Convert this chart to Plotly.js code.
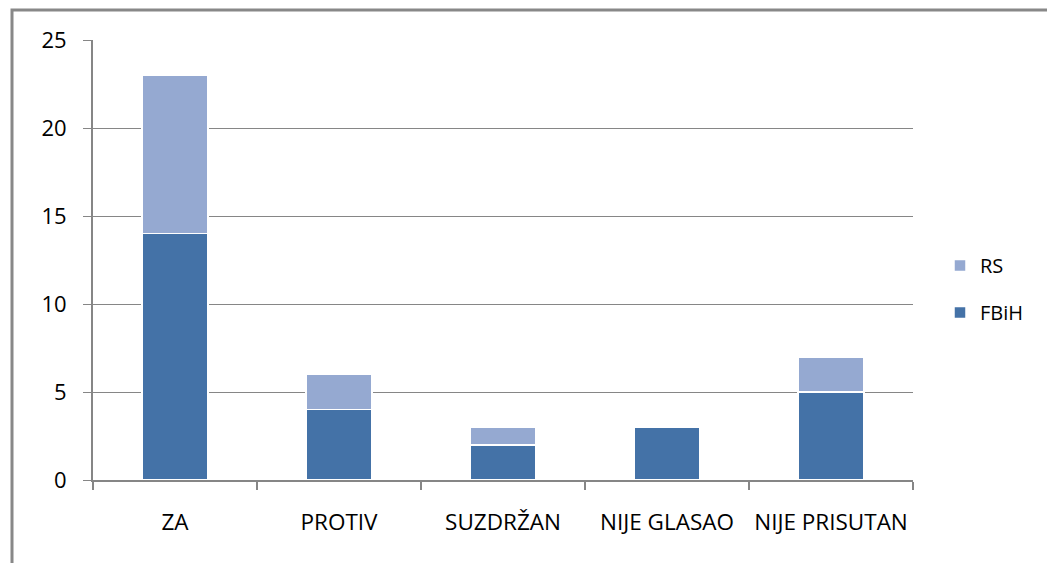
<!DOCTYPE html>
<html>
<head>
<meta charset="utf-8">
<script src="https://cdn.plot.ly/plotly-3.0.1.min.js"></script>
<style>html,body{margin:0;padding:0;background:#fff;}#chart{width:1047px;height:563px;}</style>
</head>
<body>
<div id="chart"></div>
<script>
var categories = ['ZA', 'PROTIV', 'SUZDRŽAN', 'NIJE GLASAO', 'NIJE PRISUTAN'];
var fbih = [14, 4, 2, 3, 5];
var rs = [9, 2, 1, 0, 2];
var yTicks = [0, 5, 10, 15, 20, 25];

var L = 93, R = 134, T = 40, B = 83, W = 1047, H = 563;
var pw = W - L - R, ph = H - T - B;
function px2x(p) { return (p - L) / pw; }
function px2y(p) { return (H - B - p) / ph; }

var traces = [
  { type: 'bar', name: 'FBiH', x: categories, y: fbih, legendgroup: 'a', legendrank: 2,
    marker: { color: '#4472A7', line: { color: '#ffffff', width: 1.5 } }, width: 0.4 },
  { type: 'bar', name: 'RS', x: categories, y: rs, legendgroup: 'b', legendrank: 1,
    marker: { color: '#95A9D1', line: { color: '#ffffff', width: 1.5 } }, width: 0.4 }
];

var layout = {
  width: W, height: H,
  margin: { l: L, r: R, t: T, b: B, pad: 0 },
  barmode: 'stack',
  paper_bgcolor: '#ffffff', plot_bgcolor: '#ffffff',
  font: { family: '"Open Sans", "Liberation Sans", sans-serif', size: 22, color: '#000' },
  showlegend: true,
  legend: { x: px2x(940), y: px2y(289), xanchor: 'left', yanchor: 'middle',
            traceorder: 'grouped', tracegroupgap: 18,
            font: { size: 20 }, bgcolor: 'rgba(0,0,0,0)' },
  xaxis: { type: 'category', showgrid: false, showline: true, linecolor: '#868686', linewidth: 2,
           ticks: 'outside', tickson: 'boundaries', ticklen: 8, tickcolor: '#868686', tickwidth: 2,
           tickangle: 0, ticklabelstandoff: 21, tickfont: { size: 22.5 }, zeroline: false, fixedrange: true },
  yaxis: { range: [0, 25], tickvals: yTicks, showgrid: true, gridcolor: '#868686', gridwidth: 1,
           showline: true, linecolor: '#868686', linewidth: 2, ticks: 'outside', ticklen: 8,
           tickcolor: '#868686', tickwidth: 1, ticklabelstandoff: 12, tickfont: { size: 22 },
           zeroline: false, fixedrange: true },
  shapes: [
    { type: 'rect', xref: 'paper', yref: 'paper', x0: px2x(12), x1: px2x(1060), y0: px2y(575), y1: px2y(10),
      line: { color: '#888888', width: 3 }, fillcolor: 'rgba(0,0,0,0)', layer: 'below' }
  ]
};

Plotly.newPlot('chart', traces, layout, { displayModeBar: false, staticPlot: true });
</script>
</body>
</html>
